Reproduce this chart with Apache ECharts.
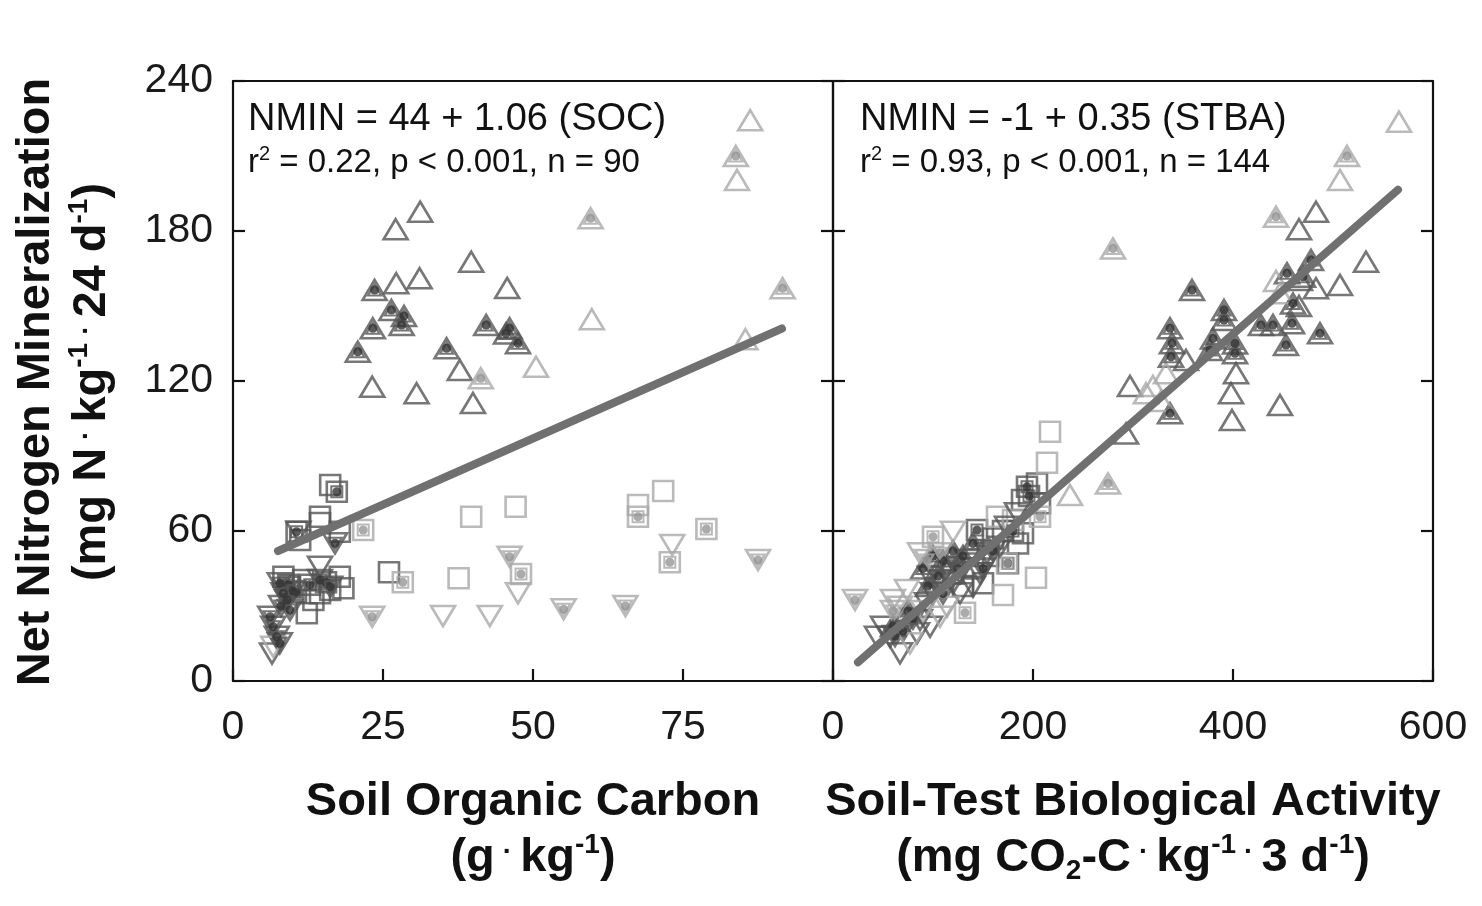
<!DOCTYPE html>
<html>
<head>
<meta charset="utf-8">
<script src="https://cdn.jsdelivr.net/npm/echarts@6/dist/echarts.min.js"></script>
<style>
html,body{margin:0;padding:0;background:#fff;}
#chart{width:1482px;height:906px;}
</style>
</head>
<body>
<div id="chart"></div>
<script>
// ---------- tick labels ----------
var yTicks = [0, 60, 120, 180, 240];
var socTicks = [0, 25, 50, 75, 100];
var stbaTicks = [0, 200, 400, 600];

// ---------- Left panel: Soil Organic Carbon (x) vs NMIN (y) ----------
var socTriDarkOpen = [[31.2,187.7],[27.1,180.7],[39.7,167.7],[27.2,159.1],[31.1,161.1],[45.7,157.2],[37.8,124.4],[23.2,117.7],[30.6,115.1],[40.0,111.2]];
var socTriDarkDot = [[23.6,156.4],[26.4,148.4],[28.1,142.4],[23.3,141.1],[20.8,131.7],[42.2,142.4],[46.1,141.1],[47.5,135.1],[35.6,133.1],[45.5,139.0],[28.5,146.0]];
var socTriLightOpen = [[86.2,224.3],[84.0,200.4],[59.8,144.7],[85.4,136.7],[50.5,125.7]];
var socTriLightDot = [[83.8,210.0],[59.6,185.1],[91.6,157.1],[41.3,121.1]];
var socSqDarkOpen = [[16.2,78.4],[14.5,65.7],[14.5,63.2],[11.2,56.4],[8.4,41.7],[9.5,37.7],[11.7,40.4],[12.3,27.1],[17.8,41.7],[18.4,37.1],[16.2,36.4],[14.5,35.1],[13.4,32.4],[26.0,43.5],[17.8,59.7]];
var socSqDarkDot = [[17.3,75.7],[10.6,59.7],[9.2,38.5],[15.5,39.5],[10.5,35.5],[12.8,38.5]];
var socSqLightOpen = [[39.7,65.7],[47.1,69.7],[37.6,41.1],[71.7,76.0],[67.5,70.4]];
var socSqLightDot = [[28.3,39.5],[48.0,42.8],[67.5,65.7],[78.9,60.8],[72.8,47.5],[21.7,60.4]];
var socInvDarkOpen = [[10.9,59.7],[14.5,45.7],[6.5,11.0]];
var socInvDarkDot = [[6.2,25.7],[6.7,21.7],[7.3,17.7],[7.8,15.1],[9.0,32.4],[8.4,35.1],[9.5,28.4],[14.5,40.4],[16.2,37.7],[17.0,55.1],[7.8,39.1],[8.0,30.0],[10.0,36.0]];
var socInvLightOpen = [[35.0,26.0],[42.8,26.0],[47.5,35.1],[73.2,54.4],[6.7,13.7]];
var socInvLightDot = [[23.2,25.7],[55.1,28.7],[65.4,30.0],[46.1,49.7],[87.5,48.4]];
var socFitX = [7.5, 91.5];
var socFitY = [52.0, 141.0];

// ---------- Right panel: Soil-Test Biological Activity (x) vs NMIN (y) ----------
var stbaTriDarkOpen = [[483,187.7],[466,180.7],[533,167.7],[507,158.4],[483,157.1],[467,160.4],[353,128.4],[403,123.1],[398,115.1],[447,110.4],[399,104.4],[297,118.0],[293,99.0],[466,150.0]];
var stbaTriDarkDot = [[478,168.4],[454,163.1],[470,161.7],[359,156.4],[391,148.4],[391,144.4],[337,141.1],[428,142.4],[440,142.4],[459,143.1],[453,134.4],[487,139.1],[339,135.1],[402,131.1],[402,135.0],[377,132.4],[338,129.7],[337,107.1],[460,151.0],[380,137.0],[90,45.0],[100,50.0],[110,48.0],[95,38.0],[120,52.0],[130,50.0],[140,55.0],[105,42.0],[60,22.0],[75,28.0]];
var stbaTriLightOpen = [[566,223.7],[507,200.4],[237,74.4],[313,115.1],[333,123.1],[447,155.1],[443,160.0],[320,118.0],[328,112.0]];
var stbaTriLightDot = [[514,210.0],[443,185.7],[280,173.0],[275,79.0]];
var stbaSqDarkOpen = [[204,79.0],[189,72.4],[207,71.1],[190,59.1],[160,57.0],[150,39.1],[140,45.0],[120,43.0],[185,55.0],[170,60.0],[155,50.0],[130,38.0]];
var stbaSqDarkDot = [[194,77.7],[144,60.4],[175,47.1],[196,74.0],[180,60.0]];
var stbaSqLightOpen = [[217,99.7],[214,87.3],[164,65.7],[203,41.3],[170,34.4],[180,64.4]];
var stbaSqLightDot = [[207,65.7],[100,57.7],[132,27.3],[174,47.1]];
var stbaInvDarkOpen = [[50,21.7],[44,17.7],[57,17.7],[67,11.1],[84,19.1],[87,24.4],[94,31.1],[100,35.1],[107,40.4],[97,41.7],[114,45.7],[120,39.1],[127,43.1],[134,48.4],[97,21.7],[127,35.1],[140,37.7],[147,43.1],[154,51.1],[167,53.7],[174,61.7],[184,67.1]];
var stbaInvDarkDot = [[70,20.0],[80,25.0],[110,35.0],[125,45.0],[150,45.0],[160,52.0],[62,18.0]];
var stbaInvLightOpen = [[120,59.7],[60,32.4],[67,29.7],[87,51.1],[74,36.4],[77,15.1],[114,29.7],[107,25.7],[90,28.0]];
var stbaInvLightDot = [[22,32.4],[94,48.4],[107,51.1],[60,28.0]];
var stbaFitX = [25, 565];
var stbaFitY = [7.5, 196.5];

// ---------- styles ----------
var FONT = '"Liberation Sans", Arial, Helvetica, sans-serif';
var SHADE = { dark: '#555555', light: '#a9a9a9' };
var DOT = { dark: '#333333', light: '#969696' };
var SHAPE = {
  tri: { symbol: 'triangle', size: [24, 20], rotate: 0 },
  inv: { symbol: 'triangle', size: [24, 20], rotate: 180 },
  sq:  { symbol: 'rect', size: [20, 20], rotate: 0 }
};

function mk(data, panel, shape, shade, dotted) {
  var ax = panel === 0 ? 0 : 2;
  var s = SHAPE[shape];
  var out = [{
    type: 'scatter', xAxisIndex: ax, yAxisIndex: ax,
    data: data, symbol: s.symbol, symbolSize: s.size, symbolRotate: s.rotate,
    itemStyle: { color: 'rgba(255,255,255,0)', borderColor: SHADE[shade], borderWidth: 2.6 },
    silent: true, z: 2
  }];
  if (dotted) {
    out.push({
      type: 'scatter', xAxisIndex: ax, yAxisIndex: ax,
      data: data, symbol: s.symbol, symbolSize: [s.size[0] * 0.55, s.size[1] * 0.55], symbolRotate: s.rotate,
      itemStyle: { color: 'rgba(255,255,255,0)', borderColor: SHADE[shade], borderWidth: 2 },
      silent: true, z: 3
    });
    out.push({
      type: 'scatter', xAxisIndex: ax, yAxisIndex: ax,
      data: data, symbol: 'circle', symbolSize: 9,
      itemStyle: { color: DOT[shade] },
      silent: true, z: 3
    });
  }
  return out;
}

function pairs(xs, ys) { return xs.map(function (x, i) { return [x, ys[i]]; }); }

var series = [].concat(
  mk(socTriDarkOpen, 0, 'tri', 'dark', false),
  mk(socTriDarkDot, 0, 'tri', 'dark', true),
  mk(socTriLightOpen, 0, 'tri', 'light', false),
  mk(socTriLightDot, 0, 'tri', 'light', true),
  mk(socSqDarkOpen, 0, 'sq', 'dark', false),
  mk(socSqDarkDot, 0, 'sq', 'dark', true),
  mk(socSqLightOpen, 0, 'sq', 'light', false),
  mk(socSqLightDot, 0, 'sq', 'light', true),
  mk(socInvDarkOpen, 0, 'inv', 'dark', false),
  mk(socInvDarkDot, 0, 'inv', 'dark', true),
  mk(socInvLightOpen, 0, 'inv', 'light', false),
  mk(socInvLightDot, 0, 'inv', 'light', true),
  mk(stbaTriDarkOpen, 1, 'tri', 'dark', false),
  mk(stbaTriDarkDot, 1, 'tri', 'dark', true),
  mk(stbaTriLightOpen, 1, 'tri', 'light', false),
  mk(stbaTriLightDot, 1, 'tri', 'light', true),
  mk(stbaSqDarkOpen, 1, 'sq', 'dark', false),
  mk(stbaSqDarkDot, 1, 'sq', 'dark', true),
  mk(stbaSqLightOpen, 1, 'sq', 'light', false),
  mk(stbaSqLightDot, 1, 'sq', 'light', true),
  mk(stbaInvDarkOpen, 1, 'inv', 'dark', false),
  mk(stbaInvDarkDot, 1, 'inv', 'dark', true),
  mk(stbaInvLightOpen, 1, 'inv', 'light', false),
  mk(stbaInvLightDot, 1, 'inv', 'light', true)
);
series.push({
  type: 'line', xAxisIndex: 0, yAxisIndex: 0, data: pairs(socFitX, socFitY),
  showSymbol: false, symbol: 'none', silent: true, z: 5,
  lineStyle: { color: '#707070', width: 8, cap: 'round' }
});
series.push({
  type: 'line', xAxisIndex: 2, yAxisIndex: 2, data: pairs(stbaFitX, stbaFitY),
  showSymbol: false, symbol: 'none', silent: true, z: 5,
  lineStyle: { color: '#707070', width: 8, cap: 'round' }
});

var LINE = { show: true, onZero: false, lineStyle: { color: '#111', width: 2.2 } };
var TICK_IN = { show: true, inside: true, length: 12, lineStyle: { color: '#111', width: 2.2 } };
var LABEL = { show: true, fontFamily: FONT, fontSize: 41, color: '#1a1a1a' };

function xBottom(grid, ticks, showMax) {
  return {
    type: 'value', gridIndex: grid, position: 'bottom',
    min: ticks[0], max: ticks[ticks.length - 1], interval: ticks[1] - ticks[0],
    axisLine: LINE, axisTick: TICK_IN, splitLine: { show: false },
    axisLabel: Object.assign({}, LABEL, { margin: 26, showMaxLabel: showMax, showMinLabel: true })
  };
}
function xTop(grid, ticks) {
  return {
    type: 'value', gridIndex: grid, position: 'top',
    min: ticks[0], max: ticks[ticks.length - 1], interval: ticks[1] - ticks[0],
    axisLine: LINE, axisTick: { show: false }, axisLabel: { show: false }, splitLine: { show: false }
  };
}
function yAx(grid, pos, labels) {
  return {
    type: 'value', gridIndex: grid, position: pos,
    min: yTicks[0], max: yTicks[yTicks.length - 1], interval: yTicks[1] - yTicks[0],
    axisLine: LINE, axisTick: TICK_IN, splitLine: { show: false },
    axisLabel: labels ? Object.assign({}, LABEL, { margin: 20 }) : { show: false }
  };
}

var T = '#111';
function txt(x, y, text, size, weight, rich, rot, align) {
  return {
    type: 'text', x: x, y: y, rotation: rot || 0, silent: true, z: 20,
    style: {
      text: text, fontFamily: FONT, fontSize: size, fontWeight: weight, fill: T,
      align: align || 'center', verticalAlign: 'middle', rich: rich || {}
    }
  };
}
function richSet(size, weight) {
  var lh = Math.round(size * 1.15);
  return {
    t: { fontFamily: FONT, fontSize: size, fontWeight: weight, color: T, lineHeight: lh, verticalAlign: 'middle' },
    d: { fontFamily: FONT, fontSize: Math.round(size * 0.6), fontWeight: weight, color: T, lineHeight: lh, verticalAlign: 'middle', padding: [0, 8, Math.round(size * 0.25), 8] },
    sup: { fontFamily: FONT, fontSize: Math.round(size * 0.6), fontWeight: weight, color: T, lineHeight: lh, verticalAlign: 'top' },
    sub: { fontFamily: FONT, fontSize: Math.round(size * 0.6), fontWeight: weight, color: T, lineHeight: lh, verticalAlign: 'bottom' }
  };
}

var graphics = [
  txt(248, 120, 'NMIN = 44 + 1.06 (SOC)', 38, 'normal', null, 0, 'left'),
  txt(248, 163, '{t|r}{sup|2}{t| = 0.22, p < 0.001, n = 90}', 33, 'normal', richSet(33, 'normal'), 0, 'left'),
  txt(860, 120, 'NMIN = -1 + 0.35 (STBA)', 38, 'normal', null, 0, 'left'),
  txt(860, 163, '{t|r}{sup|2}{t| = 0.93, p < 0.001, n = 144}', 33, 'normal', richSet(33, 'normal'), 0, 'left'),
  txt(533, 802, 'Soil Organic Carbon', 47, 'bold'),
  txt(533, 858, '{t|(g}{d|·}{t|kg}{sup|-1}{t|)}', 47, 'bold', richSet(47, 'bold')),
  txt(1133, 802, 'Soil-Test Biological Activity', 47, 'bold'),
  txt(1133, 858, '{t|(mg CO}{sub|2}{t|-C}{d|·}{t|kg}{sup|-1}{d|·}{t|3 d}{sup|-1}{t|)}', 47, 'bold', richSet(47, 'bold')),
  txt(36, 382, 'Net Nitrogen Mineralization', 47, 'bold', null, Math.PI / 2),
  txt(92, 382, '{t|(mg N}{d|·}{t|kg}{sup|-1}{d|·}{t|24 d}{sup|-1}{t|)}', 47, 'bold', richSet(47, 'bold'), Math.PI / 2)
];

var chart = echarts.init(document.getElementById('chart'), null, { renderer: 'canvas' });
chart.setOption({
  animation: false,
  backgroundColor: '#fff',
  grid: [
    { left: 233, top: 81, width: 600, height: 600, containLabel: false },
    { left: 833, top: 81, width: 600, height: 600, containLabel: false }
  ],
  xAxis: [xBottom(0, socTicks, false), xTop(0, socTicks), xBottom(1, stbaTicks, true), xTop(1, stbaTicks)],
  yAxis: [yAx(0, 'left', true), yAx(0, 'right', false), yAx(1, 'left', false), yAx(1, 'right', false)],
  series: series,
  graphic: graphics
});
</script>
</body>
</html>
